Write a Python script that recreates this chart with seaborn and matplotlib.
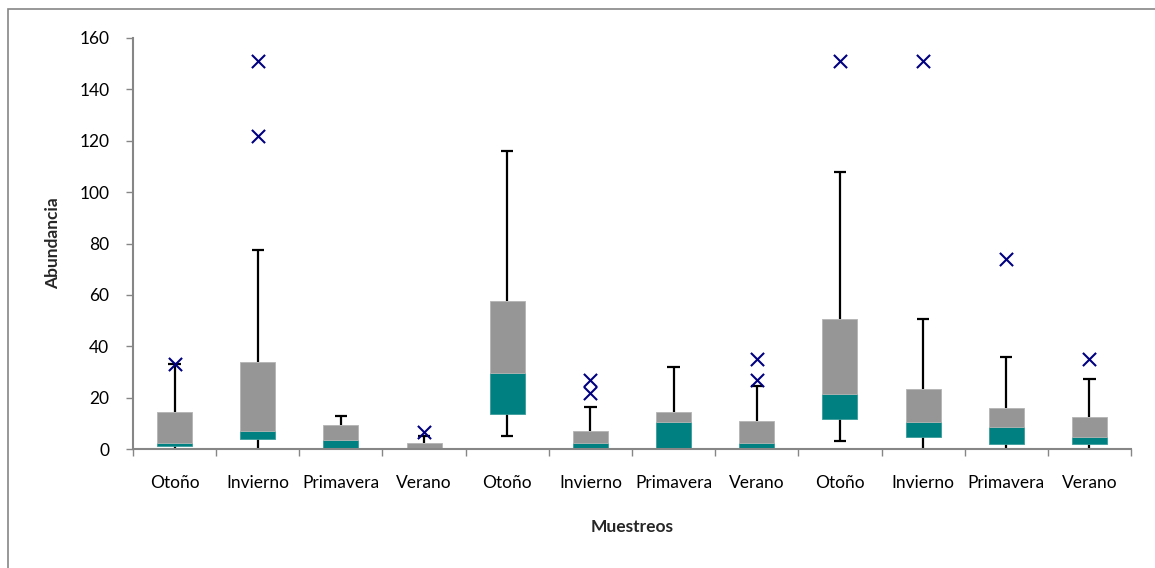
import numpy as np
import pandas as pd
import seaborn as sns
import matplotlib.pyplot as plt
from matplotlib.patches import Rectangle
from matplotlib.ticker import FixedLocator

# Sampling seasons over three sampling years
muestreos = ["Otoño", "Invierno", "Primavera", "Verano"] * 3

# Five-number summaries per sampling
minimo = [0, 0, 0, 0, 5, 0, 0, 0, 3, 0, 0, 0]
q1 = [1.2, 3.9, 0, 0, 13.6, 0, 0, 0, 11.7, 4.7, 1.9, 1.8]
mediana = [2.4, 7.0, 3.5, 0, 29.5, 2.5, 10.4, 2.5, 21.4, 10.4, 8.4, 4.5]
q3 = [14.3, 33.7, 9.2, 2.2, 57.7, 7.1, 14.4, 10.8, 50.7, 23.5, 16.0, 12.5]
maximo = [33, 77.5, 13, 5, 116, 16.3, 32, 24.6, 108, 50.6, 35.9, 27.2]

# Outliers (sampling index, abundance)
atipicos_idx = [0, 1, 1, 3, 5, 5, 7, 7, 8, 9, 10, 11]
atipicos_val = [33, 151, 122, 6.7, 27, 21.7, 35, 27, 151, 151, 74, 35]

GRIS = "#969696"
VERDE = "#008080"
AZUL = "#000080"
EJE = "#868686"
FS = 12.5

sns.set_theme(style="white")
plt.rcParams["font.family"] = ["Lato", "DejaVu Sans"]

df = pd.DataFrame({
    "pos": np.arange(len(muestreos)),
    "min": minimo, "q1": q1, "med": mediana, "q3": q3, "max": maximo,
})

fig = plt.figure(figsize=(11.55, 5.68), dpi=100)
ax = fig.add_axes([133 / 1155, 1 - 449 / 568, (1131 - 133) / 1155, (449 - 38) / 568])

# Whiskers and caps
ax.vlines(df["pos"], df["q3"], df["max"], color="black", lw=1.6, zorder=1)
ax.vlines(df["pos"], df["min"], df["q1"], color="black", lw=1.6, zorder=1)
cap = 0.075
ax.hlines(df["max"], df["pos"] - cap, df["pos"] + cap, color="black", lw=1.6, zorder=1)
low = df[df["min"] > 0.5]
ax.hlines(low["min"], low["pos"] - cap, low["pos"] + cap, color="black", lw=1.6, zorder=1)

# Box halves: lower quartile to median (teal), median to upper quartile (gray)
sns.barplot(x=df["pos"], y=df["med"] - df["q1"], bottom=df["q1"], color=VERDE,
            saturation=1, width=0.42, errorbar=None, ax=ax,
            edgecolor="#3a9a9a", linewidth=0.6, zorder=2)
sns.barplot(x=df["pos"], y=df["q3"] - df["med"], bottom=df["med"], color=GRIS,
            saturation=1, width=0.42, errorbar=None, ax=ax,
            edgecolor="#b4b4b4", linewidth=0.6, zorder=2)

# Outliers
sns.scatterplot(x=atipicos_idx, y=atipicos_val, marker="x", s=90, color=AZUL,
                linewidth=1.5, ax=ax, zorder=4, legend=False)

ax.set_xlim(-0.5, len(muestreos) - 0.5)
ax.set_ylim(0, 160)
ax.set_yticks(np.arange(0, 161, 20))
ax.set_xticks(df["pos"])
ax.set_xticklabels(muestreos)
ax.xaxis.set_minor_locator(FixedLocator(np.arange(-0.5, len(muestreos), 1)))

for side in ["top", "right"]:
    ax.spines[side].set_visible(False)
for side in ["left", "bottom"]:
    ax.spines[side].set_color(EJE)
    ax.spines[side].set_linewidth(1.5)
    ax.spines[side].set_zorder(3)

ax.tick_params(axis="y", which="major", left=True, length=5, width=1, color=EJE,
               labelsize=FS, labelcolor="black", pad=12)
ax.tick_params(axis="x", which="major", bottom=False, labelsize=FS,
               labelcolor="black", pad=13)
ax.tick_params(axis="x", which="minor", bottom=True, length=5, width=1, color=EJE)

ax.set_xlabel("Muestreos", fontsize=FS, fontweight="bold", labelpad=20)
ax.set_ylabel("Abundancia", fontsize=FS, fontweight="bold", labelpad=13)

# Chart area frame
fig.patches.append(Rectangle((8 / 1155, -0.1), 1.2, 1 - 9 / 568 + 0.1,
                             transform=fig.transFigure, fill=False,
                             edgecolor=EJE, lw=1.2))

fig.savefig("out.png", dpi=100)
